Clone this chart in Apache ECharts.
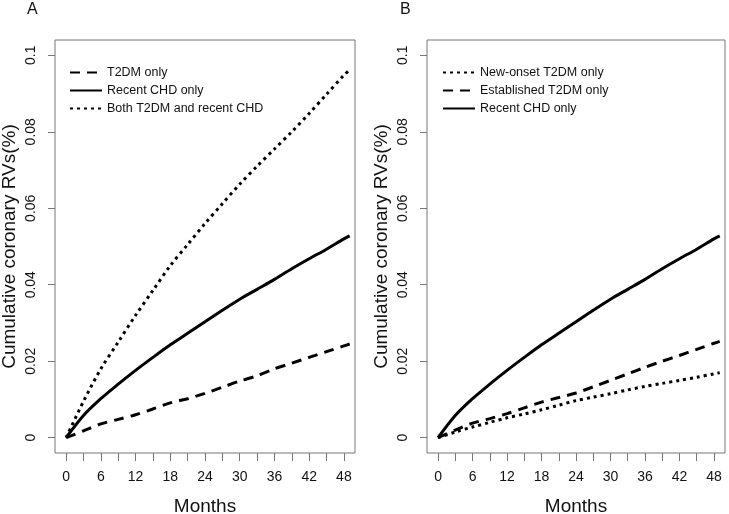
<!DOCTYPE html>
<html>
<head>
<meta charset="utf-8">
<script src="https://cdn.jsdelivr.net/npm/echarts@6/dist/echarts.min.js"></script>
<style>
  html, body { margin: 0; padding: 0; background: #fff; }
  #main { width: 729px; height: 514px; }
</style>
</head>
<body>
<div id="main"></div>
<script>
// months of follow-up
var months = [0, 3, 6, 9, 12, 15, 18, 21, 24, 27, 30, 33, 36, 39, 42, 45, 48, 49];

// panel A
var t2dmOnly = [0, 0.0018, 0.0036, 0.0048, 0.006, 0.0075, 0.0091, 0.0102, 0.0116, 0.0132, 0.0148, 0.0162, 0.018, 0.0195, 0.021, 0.0225, 0.024, 0.0245];
var recentChd = [0, 0.0058, 0.0102, 0.014, 0.0176, 0.021, 0.0243, 0.0273, 0.0303, 0.0333, 0.0362, 0.0388, 0.0414, 0.0442, 0.0468, 0.0493, 0.052, 0.0528];
var bothT2dmChd = [0, 0.0095, 0.018, 0.025, 0.032, 0.0385, 0.045, 0.0505, 0.056, 0.0612, 0.0663, 0.071, 0.0755, 0.080, 0.0848, 0.0898, 0.0948, 0.0962];

// panel B
var newOnset = [0, 0.0015, 0.0028, 0.004, 0.0052, 0.0062, 0.0073, 0.0085, 0.0097, 0.0106, 0.0115, 0.0125, 0.0134, 0.0142, 0.015, 0.0158, 0.0167, 0.017];
var established = [0, 0.002, 0.0038, 0.005, 0.0063, 0.0078, 0.0093, 0.0105, 0.0117, 0.0133, 0.015, 0.0167, 0.0184, 0.02, 0.0215, 0.0231, 0.0247, 0.0252];

var xTickMarks = [0, 3, 6, 9, 12, 15, 18, 21, 24, 27, 30, 33, 36, 39, 42, 45, 48];
var xTicks = [0, 6, 12, 18, 24, 30, 36, 42, 48];
var yTicks = [0, 0.02, 0.04, 0.06, 0.08, 0.1];

var FONT = "'Liberation Sans', Arial, sans-serif";
var GRAY = '#777';

function pairs(ys) {
    var out = [];
    for (var i = 0; i < months.length; i++) {
        out.push([months[i], ys[i]]);
    }
    return out;
}

// R style: 4% padding around the data range, ticks only on the data range
function xAxisFor(idx) {
    return {
        type: 'value', gridIndex: idx, min: -1.92, max: 49.92,
        name: 'Months', nameLocation: 'middle', nameGap: 44,
        nameTextStyle: { fontFamily: FONT, fontSize: 19, color: '#111' },
        axisLine: { show: false, onZero: false },
        axisTick: { show: true, inside: false, length: 8, customValues: xTickMarks, lineStyle: { color: GRAY, width: 1 } },
        axisLabel: { fontFamily: FONT, fontSize: 14, color: '#111', margin: 17, customValues: xTicks },
        splitLine: { show: false }
    };
}

function yAxisFor(idx) {
    return {
        type: 'value', gridIndex: idx, min: -0.004, max: 0.104,
        name: 'Cumulative coronary RVs(%)', nameLocation: 'middle', nameGap: 36,
        nameTextStyle: { fontFamily: FONT, fontSize: 19, color: '#111' },
        axisLine: { show: false, onZero: false },
        axisTick: { show: true, inside: false, length: 7, customValues: yTicks, lineStyle: { color: GRAY, width: 1 } },
        axisLabel: {
            fontFamily: FONT, fontSize: 14, color: '#111', margin: 17, rotate: 90,
            customValues: yTicks,
            formatter: function (v) { return String(Math.round(v * 100) / 100); }
        },
        splitLine: { show: false }
    };
}

function lineSeries(name, ys, xi, type) {
    var dash = type === 'dashed' ? [10, 7] : (type === 'dotted' ? [3, 4] : 'solid');
    return {
        name: name, type: 'line', xAxisIndex: xi, yAxisIndex: xi,
        data: pairs(ys), showSymbol: false, symbol: 'none', smooth: 0.3,
        lineStyle: { color: '#000', width: 3, type: dash },
        itemStyle: { color: '#000' }
    };
}

function legendFor(left, names) {
    return {
        left: left, top: 61, orient: 'vertical', itemWidth: 32, itemHeight: 14, itemGap: 5,
        itemStyle: { opacity: 0 },
        textStyle: { fontFamily: FONT, fontSize: 12.5, color: '#111' },
        data: names,
        selectedMode: false
    };
}

function boxGrid(left, width) {
    return {
        left: left, top: 40, width: width, height: 413,
        outerBoundsMode: 'none', containLabel: false,
        show: true, borderColor: GRAY, borderWidth: 1, backgroundColor: 'transparent'
    };
}

var chart = echarts.init(document.getElementById('main'), null, { renderer: 'canvas' });

chart.setOption({
    animation: false,
    backgroundColor: '#fff',
    title: [
        { text: 'A', left: 22, top: -3, textStyle: { fontFamily: FONT, fontSize: 16, fontWeight: 'normal', color: '#111' } },
        { text: 'B', left: 395, top: -3, textStyle: { fontFamily: FONT, fontSize: 16, fontWeight: 'normal', color: '#111' } }
    ],
    grid: [boxGrid(55, 300), boxGrid(427, 298)],
    xAxis: [xAxisFor(0), xAxisFor(1)],
    yAxis: [yAxisFor(0), yAxisFor(1)],
    legend: [
        legendFor(64, ['T2DM only', 'Recent CHD only', 'Both T2DM and recent CHD']),
        legendFor(437, ['New-onset T2DM only', 'Established T2DM only', 'Recent CHD only '])
    ],
    series: [
        lineSeries('T2DM only', t2dmOnly, 0, 'dashed'),
        lineSeries('Recent CHD only', recentChd, 0, 'solid'),
        lineSeries('Both T2DM and recent CHD', bothT2dmChd, 0, 'dotted'),
        lineSeries('New-onset T2DM only', newOnset, 1, 'dotted'),
        lineSeries('Established T2DM only', established, 1, 'dashed'),
        lineSeries('Recent CHD only ', recentChd, 1, 'solid')
    ]
});
</script>
</body>
</html>
